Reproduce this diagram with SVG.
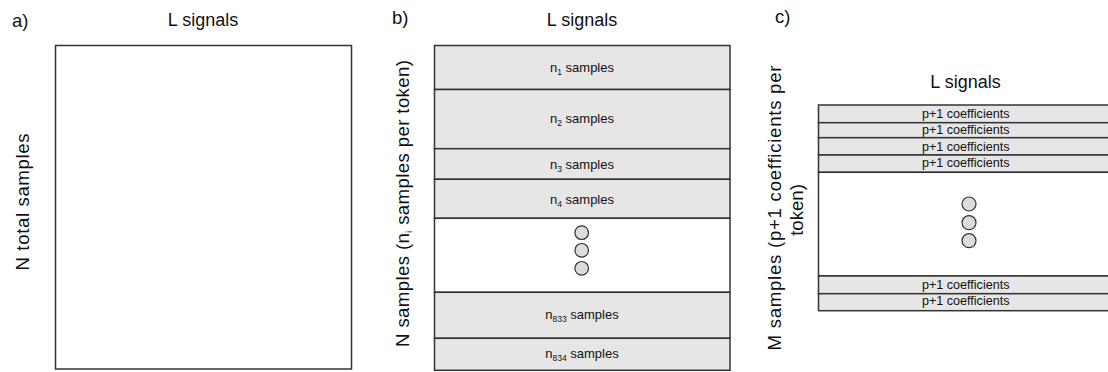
<svg xmlns="http://www.w3.org/2000/svg" width="1108" height="372" viewBox="0 0 1108 372">
<style>
text{font-family:"Liberation Sans",Arial,sans-serif;fill:#111111}
.ttl{font-size:18px;text-anchor:middle}
.lab{font-size:18.5px}
.ax{font-size:18.6px;text-anchor:middle}
.row{fill:#e6e6e6;stroke:#333333;stroke-width:1.5}
.box{fill:#ffffff;stroke:#333333;stroke-width:1.5}
.rl{font-size:13px;text-anchor:middle}
.cl{font-size:12.6px;text-anchor:middle}
.sub{font-size:8.5px}
.dot{fill:#dcdcdc;stroke:#333333;stroke-width:1.2}
</style>
<g id="panel-a">
<text class="lab" x="12" y="27">a)</text>
<text class="ttl" x="203" y="26">L signals</text>
<text class="ax" transform="translate(29,202) rotate(-90)" textLength="137">N total samples</text>
<rect class="box" x="55.5" y="45.5" width="296" height="323.5"/>
</g>
<g id="panel-b">
<text class="lab" x="392" y="24">b)</text>
<text class="ttl" x="582" y="26">L signals</text>
<text class="ax" transform="translate(409,203.5) rotate(-90)" textLength="287">N samples (n<tspan class="sub" dy="3">i</tspan><tspan dy="-3"> samples per token)</tspan></text>
<rect class="row" x="434.5" y="45.5" width="295.5" height="44"/>
<rect class="row" x="434.5" y="89.5" width="295.5" height="59.2"/>
<rect class="row" x="434.5" y="148.7" width="295.5" height="30.6"/>
<rect class="row" x="434.5" y="179.3" width="295.5" height="39"/>
<rect class="box" x="434.5" y="218.3" width="295.5" height="74"/>
<rect class="row" x="434.5" y="292.3" width="295.5" height="46"/>
<rect class="row" x="434.5" y="338.3" width="295.5" height="32"/>
<text class="rl" x="582" y="72">n<tspan class="sub" dy="3">1</tspan><tspan dy="-3"> samples</tspan></text>
<text class="rl" x="582" y="123">n<tspan class="sub" dy="3">2</tspan><tspan dy="-3"> samples</tspan></text>
<text class="rl" x="582" y="168.5">n<tspan class="sub" dy="3">3</tspan><tspan dy="-3"> samples</tspan></text>
<text class="rl" x="582" y="203.5">n<tspan class="sub" dy="3">4</tspan><tspan dy="-3"> samples</tspan></text>
<text class="rl" x="582" y="319">n<tspan class="sub" dy="3">833</tspan><tspan dy="-3"> samples</tspan></text>
<text class="rl" x="582" y="358">n<tspan class="sub" dy="3">834</tspan><tspan dy="-3"> samples</tspan></text>
<circle class="dot" cx="581.7" cy="232.7" r="6.8"/>
<circle class="dot" cx="581.7" cy="250.3" r="6.8"/>
<circle class="dot" cx="581.7" cy="268.3" r="6.8"/>
</g>
<g id="panel-c">
<text class="lab" x="775" y="23">c)</text>
<text class="ttl" x="965.5" y="88">L signals</text>
<text class="ax" transform="translate(781,208) rotate(-90)" textLength="285">M samples (p+1 coefficients per</text>
<text class="ax" transform="translate(803,210) rotate(-90)">token)</text>
<rect class="row" x="818.5" y="105" width="300" height="17.7"/>
<rect class="row" x="818.5" y="122.7" width="300" height="15"/>
<rect class="row" x="818.5" y="137.7" width="300" height="17.3"/>
<rect class="row" x="818.5" y="155" width="300" height="17.3"/>
<rect class="box" x="818.5" y="172.3" width="300" height="103.7"/>
<rect class="row" x="818.5" y="276" width="300" height="17.7"/>
<rect class="row" x="818.5" y="293.7" width="300" height="17"/>
<text class="cl" x="965.7" y="117.5">p+1 coefficients</text>
<text class="cl" x="965.7" y="134">p+1 coefficients</text>
<text class="cl" x="965.7" y="150.5">p+1 coefficients</text>
<text class="cl" x="965.7" y="166.5">p+1 coefficients</text>
<text class="cl" x="965.7" y="288.5">p+1 coefficients</text>
<text class="cl" x="965.7" y="305">p+1 coefficients</text>
<circle class="dot" cx="969" cy="204" r="7"/>
<circle class="dot" cx="969" cy="222.7" r="7"/>
<circle class="dot" cx="969" cy="240.7" r="7"/>
</g>
<g id="connectors"/>
</svg>
